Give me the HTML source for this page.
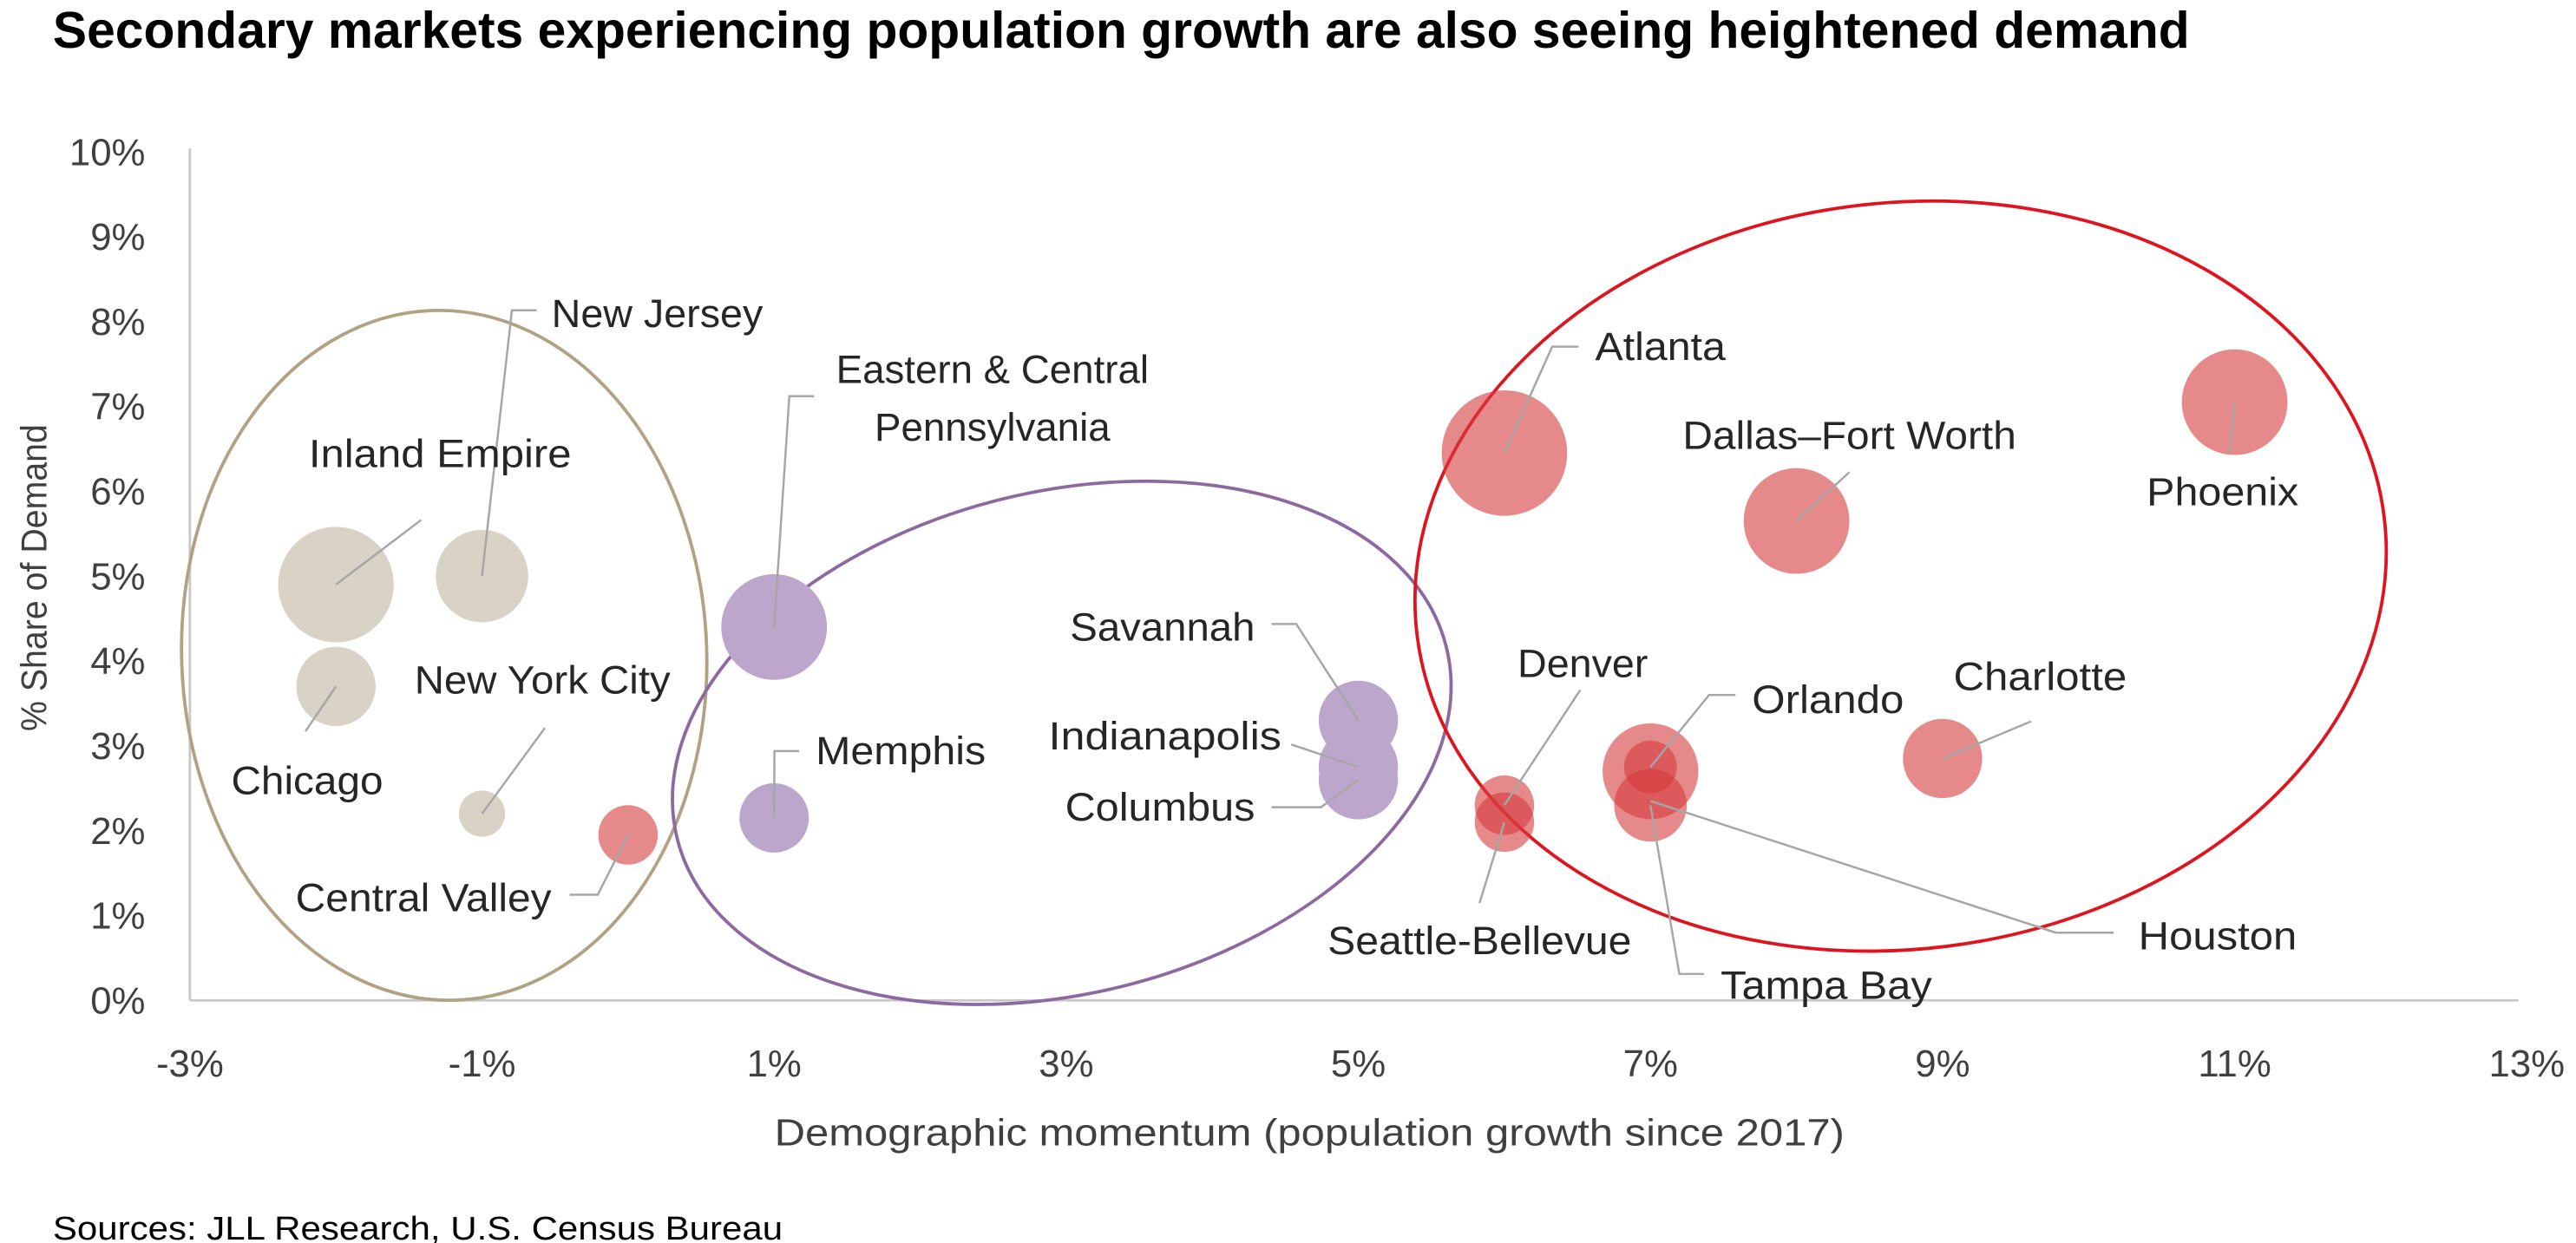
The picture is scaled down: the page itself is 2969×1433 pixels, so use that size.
<!DOCTYPE html>
<html><head><meta charset="utf-8"><style>
html,body{margin:0;padding:0;background:#fff;}
svg{display:block;}
text{font-family:"Liberation Sans",sans-serif;}
</style></head><body>
<svg id="chart" width="2969" height="1433" viewBox="0 0 1560 753" preserveAspectRatio="none" xmlns="http://www.w3.org/2000/svg">
<text x="32" y="29" font-size="31" font-weight="bold" textLength="1294" lengthAdjust="spacingAndGlyphs">Secondary markets experiencing population growth are also seeing heightened demand</text>
<g id="axes"></g>
<g id="ellipses">
<ellipse cx="269" cy="397" rx="159" ry="209" transform="rotate(-2 269 397)" fill="none" stroke="#b0a283" stroke-width="2"/>
<ellipse cx="643" cy="450" rx="240" ry="152" transform="rotate(-14 643 450)" fill="none" stroke="#8e68a0" stroke-width="2"/>
<ellipse cx="1151" cy="349" rx="295" ry="226" transform="rotate(-7 1151 349)" fill="none" stroke="#e0141e" stroke-width="2"/>
</g>
<g id="bubbles"></g>
<g id="leaders"></g>
<g id="labels"></g>
<text transform="translate(28 350) rotate(-90)" text-anchor="middle" font-size="22" fill="#404040" textLength="186" lengthAdjust="spacingAndGlyphs">% Share of Demand</text>
<text x="793" y="694" text-anchor="middle" font-size="23" fill="#404040" textLength="648" lengthAdjust="spacingAndGlyphs">Demographic momentum (population growth since 2017)</text>
<text x="32" y="751" font-size="20" fill="#000" textLength="442" lengthAdjust="spacingAndGlyphs">Sources: JLL Research, U.S. Census Bureau</text>
</svg>
<script>
const markets = ["Inland Empire","New Jersey","Chicago","New York City","Central Valley","Eastern & Central Pennsylvania","Memphis","Savannah","Indianapolis","Columbus","Atlanta","Dallas–Fort Worth","Phoenix","Charlotte","Denver","Seattle-Bellevue","Houston","Orlando","Tampa Bay"];
const growth = [-2,-1,-2,-1,0,1,1,5,5,5,6,8,11,9,6,6,7,7,7];
const demand = [4.9,5.0,3.7,2.2,1.95,4.4,2.15,3.3,2.75,2.6,6.45,5.65,7.05,2.85,2.3,2.1,2.7,2.75,2.3];
const sizes = [35,28,24,14,18,32,21,24,24,24,38,32,32,24,18,18,29,16,22];
const groups = ["tan","tan","tan","tan","red","purple","purple","purple","purple","purple","red","red","red","red","red","red","red","red","red"];
const xTicks = [-3,-1,1,3,5,7,9,11,13];
const yTicks = [0,1,2,3,4,5,6,7,8,9,10];
const NS="http://www.w3.org/2000/svg";
function x(v){return 115+(v+3)*88.45;}
function y(v){return 606-v*51.4;}
function mk(tag,attrs,parent){const e=document.createElementNS(NS,tag);for(const k in attrs)e.setAttribute(k,attrs[k]);parent.appendChild(e);return e;}
const axes=document.getElementById('axes');
let l=mk('line',{x1:x(-3),y1:y(10)-2,x2:x(-3),y2:y(0),stroke:'#c8c8c8','stroke-width':1.5},axes);


l=mk('line',{x1:x(-3),y1:y(0),x2:x(13)-5,y2:y(0),stroke:'#c8c8c8','stroke-width':1.5},axes);


yTicks.forEach(t=>{const e=mk('text',{x:88,y:y(t)+8,'text-anchor':'end','font-size':23,fill:'#404040'},axes);e.textContent=t+'%';

});
xTicks.forEach(t=>{const e=mk('text',{x:x(t),y:y(0)+46,'text-anchor':'middle','font-size':23,fill:'#404040'},axes);e.textContent=t+'%';

});
const fills={tan:['#d9d3c6',1],purple:['#bca6cc',1],red:['#d63b3c',0.6]};
const bub=document.getElementById('bubbles');
markets.forEach((m,i)=>{const f=fills[groups[i]];const c=mk('ellipse',{cx:x(growth[i]),cy:y(demand[i]),rx:sizes[i]*1.0,ry:sizes[i]*1.0,fill:f[0],'fill-opacity':f[1]},bub);

});
// label text, anchor x, baseline y, width, leader waypoints (after bubble center)
const labelDefs=[
[["Inland Empire"],187,283,159,[[255,315]]],
[["New Jersey"],334,198,128,[[310,188],[325,188]]],
[["Chicago"],140,481,92,[[185,443]]],
[["New York City"],251,420,155,[[330,441]]],
[["Central Valley"],179,552,155,[[362,542],[345,542]]],
[["Eastern & Central","Pennsylvania"],601,232,0,[[478,240],[493,240]]],
[["Memphis"],494,463,103,[[469,455],[484,455]]],
[["Savannah"],648,388,112,[[785,378],[770,378]]],
[["Indianapolis"],635,454,141,[[782,451]]],
[["Columbus"],645,497,115,[[800,489],[770,489]]],
[["Atlanta"],966,218,79,[[940,210],[956,210]]],
[["Dallas–Fort Worth"],1019,272,202,[[1120,286]]],
[["Phoenix"],1300,306,92,[[1350,275]]],
[["Charlotte"],1183,418,105,[[1230,437]]],
[["Denver"],919,410,79,[[957,418]]],
[["Seattle-Bellevue"],804,578,184,[[896,547]]],
[["Houston"],1295,575,96,[[1245,565],[1280,565]]],
[["Orlando"],1061,432,92,[[1035,421],[1051,421]]],
[["Tampa Bay"],1042,605,128,[[1017,590],[1032,590]]]];
const lg=document.getElementById('leaders'),lb=document.getElementById('labels');
labelDefs.forEach((d,i)=>{
 let cy=y(demand[i]); if(markets[i]==="Houston") cy=y(2.35);
 const pts=[[x(growth[i]),cy]].concat(d[4]);
 const p=mk('polyline',{points:pts.map(q=>q.join(',')).join(' '),fill:'none',stroke:'#a6a6a6','stroke-width':1.3},lg);
 
 
 d[0].forEach((t,j)=>{
  const a={x:d[1],y:d[2]+j*35,'font-size':24,fill:'#262626'};
  if(d[3]>0){a.textLength=d[3];a.lengthAdjust='spacingAndGlyphs';} else {a['text-anchor']='middle';}
  const e=mk('text',a,lb);e.textContent=t;
  
  
 });
});
</script>
</body></html>
